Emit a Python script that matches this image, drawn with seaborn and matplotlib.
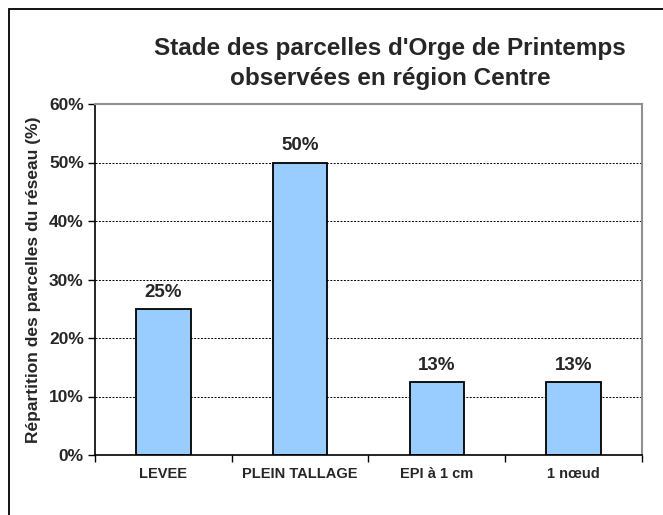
import numpy as np
import pandas as pd
import matplotlib
matplotlib.use('Agg')
import matplotlib.pyplot as plt
import seaborn as sns
from matplotlib.patches import Rectangle
from matplotlib.ticker import PercentFormatter

# Données
stades = ['LEVEE', 'PLEIN TALLAGE', 'EPI à 1 cm', '1 nœud']
valeurs = [25.0, 50.0, 12.5, 12.5]
etiquettes = ['25%', '50%', '13%', '13%']

df = pd.DataFrame({'Stade': stades, 'Valeur': valeurs})

sns.set_style('white')
plt.rcParams['font.family'] = ['Liberation Sans', 'DejaVu Sans']

fig = plt.figure(figsize=(6.63, 5.15), dpi=100)
ax = fig.add_axes([95 / 663, 60 / 515, 547 / 663, 351 / 515])

sns.barplot(data=df, x='Stade', y='Valeur', color='#99CCFF', saturation=1,
            edgecolor='black', linewidth=1.3, width=0.40, ax=ax)

# Étiquettes au-dessus des barres
for i, (v, t) in enumerate(zip(valeurs, etiquettes)):
    ax.text(i, v + 1.4, t, ha='center', va='bottom', fontsize=13.5, fontweight='bold')

ax.set_ylim(0, 60)
ax.set_xlim(-0.5, 3.5)
ax.set_yticks(np.arange(0, 61, 10))
ax.yaxis.set_major_formatter(PercentFormatter(decimals=0))
ax.yaxis.grid(True, color='black', linestyle=(0, (2, 1.5)), linewidth=0.7)
ax.set_axisbelow(True)

ax.set_xticks([0, 1, 2, 3])
ax.set_xticks([-0.5, 0.5, 1.5, 2.5, 3.5], minor=True)
ax.tick_params(axis='x', which='major', length=0, pad=9, labelsize=10.5)
ax.tick_params(axis='x', which='minor', length=5, direction='out', color='black', width=1)
ax.tick_params(axis='y', length=5, direction='out', color='black', width=1, labelsize=12.5, pad=3)
ax.tick_params(left=True, bottom=True, which='both')
for lab in ax.get_xticklabels() + ax.get_yticklabels():
    lab.set_fontweight('bold')

ax.set_xlabel('')
ax.set_ylabel('Répartition des parcelles du réseau (%)', fontsize=12.5,
              fontweight='bold')
ax.yaxis.set_label_coords(-54 / 547, 0.5)

for s in ['left', 'bottom']:
    ax.spines[s].set_color('black')
    ax.spines[s].set_linewidth(1.2)
for s in ['top', 'right']:
    ax.spines[s].set_color('#909090')
    ax.spines[s].set_linewidth(1.5)
    ax.spines[s].set_visible(True)

fig.text(390 / 663, 1 - 49 / 515, "Stade des parcelles d'Orge de Printemps",
         ha='center', va='center', fontsize=17.5, fontweight='bold')
fig.text(390 / 663, 1 - 78 / 515, 'observées en région Centre',
         ha='center', va='center', fontsize=17.5, fontweight='bold')

# Cadre extérieur
fig.patches.append(Rectangle((9 / 663, -0.2), 1.2, 1.2 - 9 / 515,
                             transform=fig.transFigure, fill=False,
                             edgecolor='black', linewidth=1.3))

fig.savefig('out.png', dpi=100)
